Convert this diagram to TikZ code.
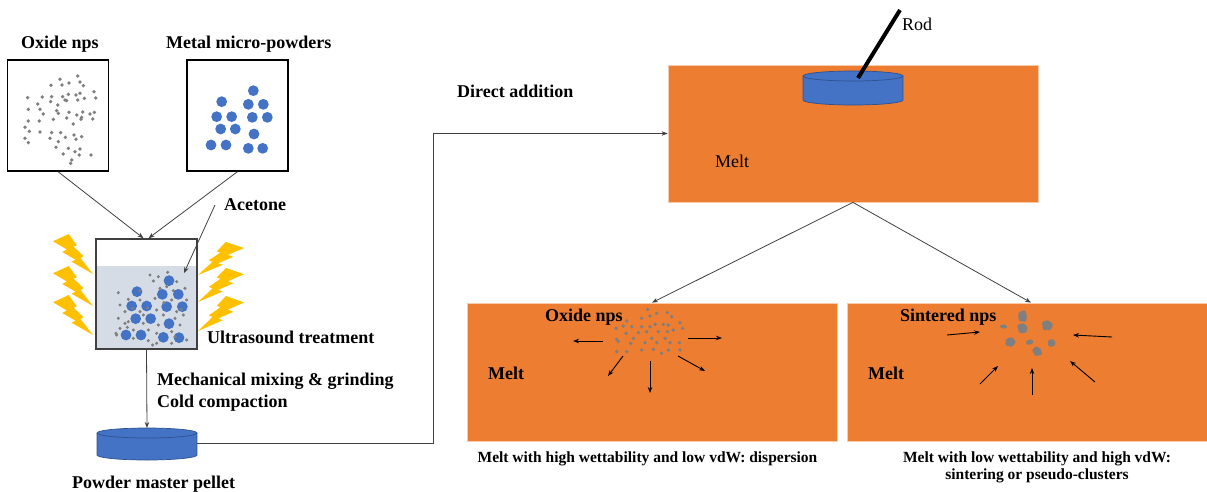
\documentclass[tikz,border=0pt]{standalone}
\usepackage{fontspec}
\setmainfont{Liberation Serif}
\usetikzlibrary{arrows.meta}
\definecolor{meltor}{HTML}{ED7D31}
\definecolor{meltedge}{HTML}{F8CBAD}
\definecolor{pblue}{HTML}{4472C4}
\definecolor{pedge}{HTML}{2F528F}
\definecolor{npgray}{HTML}{7F7F7F}
\definecolor{liquid}{HTML}{D6DCE5}
\definecolor{boltc}{HTML}{FFC000}
\definecolor{linegray}{HTML}{404040}
\tikzset{
  lab/.style={font=\fontsize{18}{21}\selectfont\bfseries, inner sep=0pt, anchor=base west},
  labreg/.style={font=\fontsize{18}{21}\selectfont, inner sep=0pt, anchor=base west},
  capt/.style={font=\fontsize{15.5}{18}\selectfont\bfseries, inner sep=0pt, anchor=base},
  frame/.style={draw=black, line width=1.3pt, inner sep=0pt},
  meltbox/.style={fill=meltor, draw=meltedge, line width=0.8pt, inner sep=0pt},
  conn/.style={draw=linegray, line width=0.8pt, -{Stealth[length=6pt,width=4.5pt]}},
  flow/.style={draw=black, line width=0.9pt, -{Stealth[length=6pt,width=4.5pt]}},
  bolt/.pic={\fill[boltc] (0.392,0) -- (0,0.182) -- (0.350,0.390) -- (0.231,0.450)
      -- (0.565,0.644) -- (0.462,0.691) -- (1,1) -- (0.684,0.598) -- (0.767,0.556)
      -- (0.511,0.317) -- (0.594,0.283) -- cycle;}
}
\begin{document}
\begin{tikzpicture}[x=1pt,y=-1pt]
\useasboundingbox (0,0) rectangle (1207,491);

% ---------- starting powders ----------
\node[lab] (oxlab) at (21,48) {Oxide nps};
\node[lab] (metlab) at (166,48) {Metal micro-powders};
\node[frame, minimum width=101pt, minimum height=111pt] (oxbox) at (58,115.5) {};
\node[frame, minimum width=101pt, minimum height=111pt] (metbox) at (237.5,115.5) {};

\foreach \x/\y in {233/228,180/238,153/256,207/249,186/255,240/246,250/257,282/275,
  83/293,127/291,155/290,188/290,205/283,228/285,240/280,253/295,287/294,113/312,
  152/305,173/315,200/302,233/300,85/328,120/328,170/332,207/337,248/336,270/342,
  283/337,130/342,85/363,118/363,160/358,200/354,230/345,243/358,278/357,220/372,
  75/382,88/394,120/396,155/398,182/398,196/412,222/405,245/410,150/415,175/425,
  228/418,75/415,85/428,168/442,205/445,240/447,190/462,225/455,238/465,215/480,
  212/490,273/465,195/300,175/340,245/352}
  \fill[npgray] (\x/3,\y/3) circle[radius=1.9];

\foreach \x/\y in {665/305,760/272,745/313,790/313,650/350,695/350,757/352,802/352,
  662/387,706/387,762/402,633/435,678/435,745/445,788/445}
  \fill[pblue] (\x/3,\y/3) circle[radius=5.4];

% ---------- ultrasound beaker ----------
\fill[liquid] (96,266) rectangle (197,349);
\foreach \x/\y in {387/182,291/215,367/223,415/223,275/258,320/258,380/260,427/260,
  287/296,332/296,387/311,258/345,303/345,370/352,417/353}
  \fill[pblue] (40+\x/3,220+\y/3) circle[radius=5.4];
\foreach \x/\y in {330/165,355/170,383/157,340/183,410/185,360/205,400/212,435/205,
  235/218,265/238,300/240,345/235,395/240,440/240,240/255,255/275,300/275,350/270,
  410/275,430/285,235/295,265/305,310/310,355/315,405/295,240/325,280/330,325/330,
  350/340,395/335,230/345,280/355,325/362,350/370,395/370,440/360,255/310,420/315,
  310/285,370/285,300/212,380/200,278/265,372/248,424/268,322/264,228/340,262/322,
  338/375,405/350}
  \fill[npgray] (40+\x/3,220+\y/3) circle[radius=1.7];
\node[draw=linegray, line width=1.5pt, inner sep=0pt, minimum width=101pt,
  minimum height=110pt] (beaker) at (146.5,294) {};

\pic[xscale=40, yscale=40] at (53,234) {bolt};
\pic[xscale=40, yscale=40] at (53,266) {bolt};
\pic[xscale=40, yscale=40] at (53,295) {bolt};
\pic[xscale=-46, yscale=33] at (244,242) {bolt};
\pic[xscale=-46, yscale=34] at (244,268) {bolt};
\pic[xscale=-46, yscale=35] at (244,296) {bolt};

\node[lab] (acet) at (224,210) {Acetone};
\coordinate (acetfoot) at (215,205);
\coordinate (liq) at (184,273);
\node[lab] (us) at (207,343) {Ultrasound treatment};

\draw[conn] (oxbox.south) -- ([xshift=-3pt]beaker.north);
\draw[conn] (metbox.south) -- ([xshift=2pt]beaker.north);
\draw[conn] (acetfoot) -- (liq);

% ---------- pellet ----------
\node[lab] (mix) at (157,385) {Mechanical mixing \& grinding};
\node[lab] (cold) at (157,407) {Cold compaction};
\coordinate (pellet) at (147,428);
\coordinate (pelletR) at (197,443);
\fill[pblue] (97,433) rectangle (197,455);
\fill[pblue] (147,455) ellipse[x radius=50, y radius=5];
\draw[pedge, line width=0.7pt] (97,433) -- (97,455) arc[start angle=180, end angle=0,
  x radius=50, y radius=5] -- (197,433);
\filldraw[fill=pblue, draw=pedge, line width=0.7pt] (147,433) ellipse[x radius=50, y radius=5];
\node[lab] (pellab) at (72,488) {Powder master pellet};
\draw[conn] (beaker.south) -- (pellet);

% ---------- direct addition into the melt ----------
\node[lab] (direct) at (457,97) {Direct addition};
\node[meltbox, minimum width=370pt, minimum height=137pt] (melttop) at (853,133.5) {};
\node[labreg] (meltA) at (715,167) {Melt};
\coordinate (turn) at (433,133.5);
\draw[conn] (pelletR) -- (pelletR -| turn) -- (turn) -- (melttop.west);

\fill[pblue] (803,76) rectangle (903,100);
\fill[pblue] (853,100) ellipse[x radius=50, y radius=5];
\draw[pedge, line width=0.7pt] (803,76) -- (803,100) arc[start angle=180, end angle=0,
  x radius=50, y radius=5] -- (903,76);
\filldraw[fill=pblue, draw=pedge, line width=0.7pt] (853,76) ellipse[x radius=50, y radius=5];
\coordinate (rodbot) at (858,78);
\coordinate (rodtop) at (900,10);
\draw[line width=4pt, black] (rodbot) -- (rodtop);
\node[labreg] (rod) at (902,30) {Rod};

% ---------- two outcomes ----------
\node[meltbox, minimum width=370pt, minimum height=138pt] (meltL) at (652,372) {};
\node[meltbox, minimum width=362pt, minimum height=138pt] (meltR) at (1028,372) {};
\draw[conn] (melttop.south) -- (meltL.north);
\draw[conn] (melttop.south) -- ([xshift=3pt]meltR.north);

% dispersion
\node[lab] (oxL) at (545,321) {Oxide nps};
\node[lab] (meltLlab) at (488,379) {Melt};
\foreach \x/\y in {563/58,570/78,590/70,622/68,635/80,545/85,500/93,468/115,490/108,
  515/110,545/110,570/110,585/103,610/103,625/105,660/98,668/115,470/148,498/130,
  535/128,560/125,595/125,622/125,640/120,475/155,512/160,555/158,590/158,630/158,
  658/158,470/185,500/185,545/180,580/178,605/190,625/180,660/180,520/145,575/145,
  615/145}
  \fill[npgray] (460+\x/3,290+\y/3) circle[radius=1.9];
\coordinate (dl1) at (603,341);  \coordinate (dl2) at (573,341);
\coordinate (dr1) at (688,338);  \coordinate (dr2) at (722,338);
\coordinate (dd1) at (623,356);  \coordinate (dd2) at (608,376);
\coordinate (dv1) at (650,361);  \coordinate (dv2) at (650,393);
\coordinate (de1) at (678,356);  \coordinate (de2) at (705,371);
\draw[flow] (dl1) -- (dl2);
\draw[flow] (dr1) -- (dr2);
\draw[flow] (dd1) -- (dd2);
\draw[flow] (dv1) -- (dv2);
\draw[flow] (de1) -- (de2);
\node[capt] (capL) at (647.5,462) {Melt with high wettability and low vdW: dispersion};

% sintering
\node[lab] (sint) at (900,321) {Sintered nps};
\node[lab] (meltRlab) at (868,379) {Melt};
\begin{scope}[npgray, rounded corners=1.2pt]
  \fill (1019,312) -- (1025,310) -- (1027,316) -- (1026,322) -- (1019,321) -- (1018,316) -- cycle;
  \fill (999,326) -- (1004,324) -- (1008,327) -- (1003,329) -- cycle;
  \fill (1017,325) -- (1023,323) -- (1028,327) -- (1026,333) -- (1019,333) -- cycle;
  \fill (1042,322) -- (1048,320) -- (1053,324) -- (1051,330) -- (1043,330) -- cycle;
  \fill (1006,339) -- (1012,337) -- (1016,342) -- (1012,347) -- (1005,345) -- cycle;
  \fill (1026,341) -- (1031,339) -- (1034,342) -- (1030,345) -- (1026,344) -- cycle;
  \fill (1048,340) -- (1053,339) -- (1056,343) -- (1053,347) -- (1048,346) -- cycle;
  \fill (1032,350) -- (1036,346) -- (1041,349) -- (1042,355) -- (1035,356) -- cycle;
\end{scope}
\coordinate (sa1) at (947,335);  \coordinate (sa2) at (980,332);
\coordinate (sb1) at (1112,337); \coordinate (sb2) at (1073,335);
\coordinate (sc1) at (980,384);  \coordinate (sc2) at (998,366);
\coordinate (sd1) at (1032,395); \coordinate (sd2) at (1032,368);
\coordinate (se1) at (1095,382); \coordinate (se2) at (1070,361);
\draw[flow] (sa1) -- (sa2);
\draw[flow] (sb1) -- (sb2);
\draw[flow] (sc1) -- (sc2);
\draw[flow] (sd1) -- (sd2);
\draw[flow] (se1) -- (se2);
\node[capt] (capR1) at (1037,462) {Melt with low wettability and high vdW:};
\node[capt] (capR2) at (1037,479) {sintering or pseudo-clusters};
\end{tikzpicture}
\end{document}
